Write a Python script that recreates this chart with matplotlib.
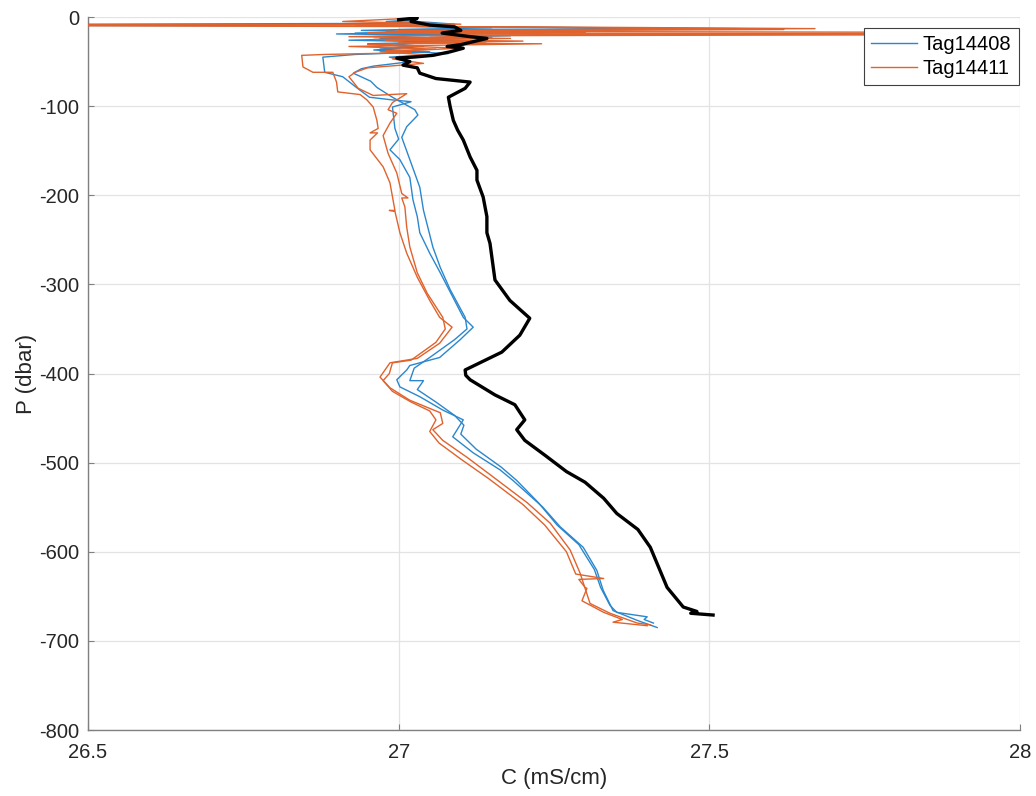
import matplotlib
matplotlib.use("Agg")
import matplotlib.pyplot as plt

# ---------------- data ----------------
# reference profile (black)
black_c = [27.00, 27.03, 27.02, 27.05, 27.09, 27.10, 27.07, 27.115, 27.142, 27.10, 27.078, 27.104,
           27.083, 27.055, 27.023, 26.997, 27.018, 27.007, 27.030, 27.034, 27.06, 27.115, 27.107,
           27.08, 27.083, 27.088, 27.095, 27.104, 27.115, 27.126, 27.126, 27.136, 27.142, 27.142,
           27.147, 27.155, 27.179, 27.211, 27.195, 27.166, 27.107, 27.108, 27.115, 27.155, 27.187,
           27.203, 27.19, 27.203, 27.236, 27.27, 27.30, 27.33, 27.351, 27.385, 27.405, 27.42,
           27.432, 27.458, 27.48, 27.47, 27.506]
black_p = [-3, -1, -5, -9, -11, -15, -18, -22, -24, -31, -33, -35,
           -39, -43, -45, -46, -50, -54, -57, -63, -69, -73, -80,
           -90, -101, -116, -127, -138, -157, -172, -183, -202, -224, -242,
           -254, -295, -318, -338, -357, -376, -396, -402, -407, -424, -435,
           -452, -463, -475, -492, -510, -522, -540, -557, -575, -595, -620,
           -640, -662, -667, -669, -671]

# Tag14408 (blue), two casts
b1_c = [27.03, 26.98, 27.06, 26.0, 26.96, 27.12, 27.55, 27.00, 27.08, 26.93, 27.10, 26.96, 27.05,
        26.92, 27.07, 26.95, 27.02, 26.97, 27.05, 26.93, 26.878, 26.881, 26.91, 26.932, 26.953,
        26.99, 27.02, 26.99, 26.994, 27.00, 26.986, 27.002, 27.018, 27.023, 27.03, 27.034, 27.05,
        27.067, 27.087, 27.104, 27.120, 27.099, 27.066, 27.018, 27.013, 26.997, 27.002, 27.034,
        27.071, 27.104, 27.087, 27.120, 27.163, 27.184, 27.232, 27.260, 27.297, 27.319, 27.329,
        27.345, 27.384, 27.416]
b1_p = [-3, -5, -7, -9, -10, -11, -13, -14, -16, -18, -20, -22, -24,
        -26, -28, -30, -33, -36, -39, -42, -45, -62, -67, -79, -90,
        -93, -95, -101, -125, -137, -149, -160, -180, -205, -224, -242, -265,
        -287, -314, -337, -348, -362, -382, -391, -396, -407, -415, -426,
        -441, -452, -471, -489, -508, -520, -550, -572, -595, -621, -643,
        -666, -677, -685]

b2_c = [27.01, 27.09, 26.97, 27.15, 26.94, 27.06, 26.90, 27.18, 26.97, 27.11, 26.99, 27.04, 26.96,
        27.08, 26.985, 27.02, 26.96, 26.94, 26.927, 26.955, 26.965, 26.99, 27.026, 27.031, 27.013,
        27.005, 27.018, 27.034, 27.04, 27.047, 27.055, 27.067, 27.083, 27.107, 27.11, 27.09, 27.05,
        27.025, 27.018, 27.04, 27.03, 27.06, 27.09, 27.105, 27.10, 27.125, 27.165, 27.19, 27.225,
        27.255, 27.29, 27.315, 27.325, 27.34, 27.351, 27.40, 27.395, 27.41]
b2_p = [-4, -8, -10, -12, -15, -17, -19, -21, -24, -27, -30, -33, -37,
        -41, -45, -50, -55, -58, -63, -72, -79, -90, -104, -110, -123,
        -135, -160, -191, -217, -236, -258, -281, -306, -337, -350, -362, -382,
        -394, -408, -408, -418, -432, -447, -458, -468, -485, -505, -520, -545,
        -570, -592, -620, -640, -660, -668, -673, -676, -680]

# Tag14411 (orange), two casts
o1_c = [27.00, 26.91, 27.10, 26.0, 27.20, 27.67, 27.00, 27.30, 26.95, 28.6, 27.05, 27.15, 26.96,
        27.20, 27.00, 27.23, 26.92, 27.06, 26.98, 27.02, 26.88, 26.844, 26.846, 26.862, 26.894,
        26.900, 26.902, 26.938, 26.949, 26.959, 26.965, 26.967, 26.954, 26.966, 26.954, 26.954,
        26.975, 26.986, 26.994, 26.985, 26.994, 27.002, 27.013, 27.030, 27.050, 27.066, 27.086,
        27.066, 27.030, 26.986, 26.970, 26.986, 27.018, 27.067, 27.071, 27.055, 27.071, 27.110,
        27.152, 27.207, 27.244, 27.276, 27.292, 27.308, 27.340, 27.384, 27.405]
o1_p = [-2, -5, -8, -9, -11, -13, -15, -17, -18, -19, -21, -23, -25,
        -27, -29, -30, -33, -36, -38, -40, -42, -43, -56, -62, -62,
        -73, -84, -87, -93, -101, -116, -125, -130, -130, -138, -149,
        -168, -186, -217, -217, -218, -242, -265, -292, -318, -337, -348,
        -366, -383, -388, -404, -416, -430, -444, -456, -463, -475, -494,
        -516, -545, -568, -598, -624, -658, -669, -680, -682]

o2_c = [27.04, 26.93, 27.12, 27.62, 26.98, 28.6, 27.10, 26.92, 27.18, 26.98, 27.14, 26.95, 27.10,
        26.97, 27.06, 26.99, 27.04, 26.95, 26.93, 26.92, 26.935, 26.959, 27.013, 26.99, 26.983,
        26.997, 26.986, 26.975, 26.983, 26.997, 27.005, 27.015, 27.005, 27.010, 27.013, 27.018,
        27.030, 27.046, 27.071, 27.075, 27.06, 27.02, 26.99, 26.985, 26.975, 26.99, 27.02, 27.05,
        27.06, 27.05, 27.065, 27.10, 27.145, 27.20, 27.235, 27.27, 27.285, 27.33, 27.29, 27.30,
        27.303, 27.295, 27.33, 27.36, 27.345, 27.40]
o2_p = [-6, -9, -11, -14, -16, -18, -20, -22, -24, -26, -28, -31, -35,
        -39, -43, -47, -52, -57, -62, -67, -80, -88, -86, -96, -104,
        -108, -119, -133, -153, -175, -198, -203, -203, -213, -236, -258,
        -287, -310, -337, -350, -365, -385, -388, -400, -408, -420, -432, -442,
        -452, -465, -478, -496, -518, -547, -570, -600, -625, -630, -631, -640,
        -641, -655, -668, -676, -679, -683]

x_ticks = [26.5, 27, 27.5, 28]
x_ticklabels = ["26.5", "27", "27.5", "28"]
y_ticks = [-800, -700, -600, -500, -400, -300, -200, -100, 0]
y_ticklabels = ["-800", "-700", "-600", "-500", "-400", "-300", "-200", "-100", "0"]

# ---------------- plot ----------------
plt.rcParams['font.family'] = ['Liberation Sans', 'DejaVu Sans']
fig = plt.figure(figsize=(10.36, 7.96), dpi=100)
ax = fig.add_axes([0.0849, 0.0829, 0.8997, 0.8957])

blue = '#2b87cd'
orange = '#e0622c'

ax.plot(b1_c, b1_p, color=blue, lw=1.0, label='Tag14408', zorder=3)
ax.plot(b2_c, b2_p, color=blue, lw=1.0, zorder=3)
ax.plot(o1_c, o1_p, color=orange, lw=1.0, label='Tag14411', zorder=3)
ax.plot(o2_c, o2_p, color=orange, lw=1.0, zorder=3)
ax.plot(black_c, black_p, color='black', lw=2.4, zorder=4)

ax.set_xlim(26.5, 28)
ax.set_ylim(-800, 0)
ax.set_xticks(x_ticks)
ax.set_xticklabels(x_ticklabels)
ax.set_yticks(y_ticks)
ax.set_yticklabels(y_ticklabels)
ax.grid(True, color='#e3e3e3', lw=0.9)
ax.set_axisbelow(True)
for s in ['top', 'right']:
    ax.spines[s].set_visible(False)
for s in ['left', 'bottom']:
    ax.spines[s].set_color('#808080')
    ax.spines[s].set_linewidth(1.0)
ax.tick_params(direction='in', length=4, color='#808080', labelsize=14.5,
               labelcolor='#262626')
ax.tick_params(axis='x', pad=9)
ax.tick_params(axis='y', pad=6)
ax.set_xlabel('C (mS/cm)', fontsize=16, color='#262626', labelpad=5)
ax.set_ylabel('P (dbar)', fontsize=16, color='#262626', labelpad=2)

leg = ax.legend(loc='upper right', bbox_to_anchor=(0.9985, 0.985), fontsize=14.5,
                frameon=True, fancybox=False, framealpha=1, edgecolor='#404040',
                handlelength=2.3, borderpad=0.35, labelspacing=0.25, handletextpad=0.3,
                borderaxespad=0)
leg.get_frame().set_linewidth(0.8)

fig.savefig('out.png', dpi=100)
